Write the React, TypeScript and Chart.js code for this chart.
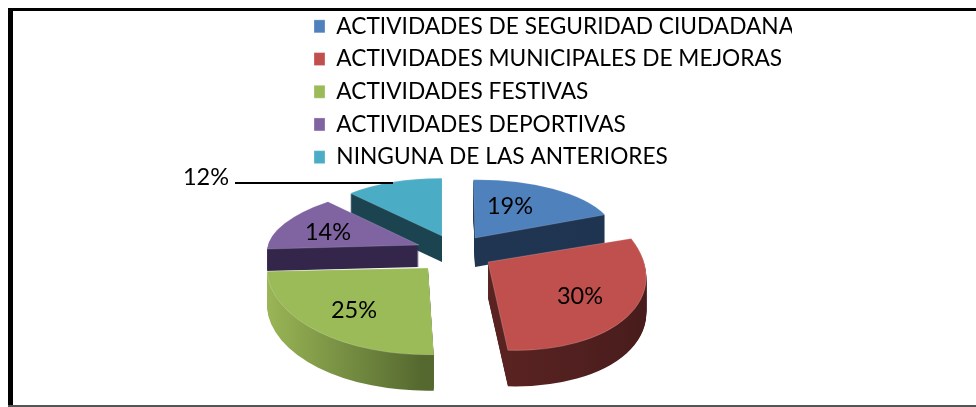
import React, { useEffect, useRef } from "react";
import { Chart, registerables } from "chart.js";

Chart.register(...registerables);

const categories = [
  "ACTIVIDADES DE SEGURIDAD CIUDADANA",
  "ACTIVIDADES MUNICIPALES DE MEJORAS",
  "ACTIVIDADES FESTIVAS",
  "ACTIVIDADES DEPORTIVAS",
  "NINGUNA DE LAS ANTERIORES",
];
const values = [19, 30, 25, 14, 12];
const topColors = ["#4F81BD", "#C0504D", "#9BBB59", "#8064A2", "#4BACC6"];

// 3D look: explode offset from the pie centre, per-slice projection, wall depth and wall shades
const pieCentre = { x: 455, y: 262 };
const explode = [[20, -24], [33, 0], [-27, 6], [-36, -17], [-13, -26]];
const projection = [
  [140.5, -1.9, 1.7, 58.3],
  [158, 9.6, 10, 87.9],
  [161, 2.1, -4.4, 86.7],
  [151.2, -0.3, -17.1, 59.6],
  [134, 0.9, 0, 57.7],
];
const depth = [29, 36, 36, 22, 26];
const wallShades = [
  ["#1F3552", "#1F3450"],
  ["#5A2322", "#481C1C"],
  ["#9AB656", "#54682F"],
  ["#33264A", "#322440"],
  ["#1C4450", "#1F4A55"],
];
const drawOrder = [4, 3, 0, 2, 1];
const labelOffset = [[35, -32], [92, 34], [-74, 42], [-91, -13], [-236, -59]];
const leader = { from: [235, 183], to: [393, 183] };
const FONT = "Lato, Carlito, sans-serif";

const pie3d = {
  id: "pie3d",
  afterLayout(chart: any) {
    const lg = chart.legend;
    const w = lg.right - lg.left;
    const h = lg.bottom - lg.top;
    lg.left = 304;
    lg.right = 304 + w;
    lg.top = 5;
    lg.bottom = 5 + h;
  },
  beforeDatasetsDraw(chart: any) {
    const { ctx } = chart;
    const arcs = chart.getDatasetMeta(0).data;
    drawOrder.forEach((i) => {
      const arc = arcs[i];
      const R = arc.outerRadius;
      const m = projection[i];
      const ax = pieCentre.x + explode[i][0];
      const ay = pieCentre.y + explode[i][1];
      const base = arc.options;
      const place = (dy: number) => {
        ctx.save();
        ctx.translate(ax, ay + dy);
        ctx.transform(m[0] / R, m[1] / R, m[2] / R, m[3] / R, 0, 0);
        ctx.translate(-arc.x, -arc.y);
      };
      const grad = ctx.createLinearGradient(arc.x - R, 0, arc.x + R, 0);
      const isLeft = i === 2;
      grad.addColorStop(isLeft ? 0 : 0.5, wallShades[i][0]);
      grad.addColorStop(isLeft ? 0.5 : 1, wallShades[i][1]);
      arc.options = { ...base, backgroundColor: grad, borderWidth: 0 };
      for (let d = depth[i]; d >= 1; d--) {
        place(d);
        arc.draw(ctx);
        ctx.restore();
      }
      arc.options = base;
      place(0);
      arc.draw(ctx);
      ctx.restore();
    });
    ctx.save();
    ctx.strokeStyle = "#000";
    ctx.lineWidth = 2;
    ctx.beginPath();
    ctx.moveTo(leader.from[0], leader.from[1]);
    ctx.lineTo(leader.to[0], leader.to[1]);
    ctx.stroke();
    ctx.fillStyle = "#000";
    ctx.font = `23.5px ${FONT}`;
    ctx.textAlign = "center";
    ctx.textBaseline = "middle";
    values.forEach((v, i) => {
      const ax = pieCentre.x + explode[i][0];
      const ay = pieCentre.y + explode[i][1];
      ctx.fillText(`${v}%`, ax + labelOffset[i][0], ay + labelOffset[i][1]);
    });
    ctx.restore();
    return false;
  },
};

export default function App() {
  const ref = useRef<HTMLCanvasElement | null>(null);
  useEffect(() => {
    const chart = new Chart(ref.current as HTMLCanvasElement, {
      type: "pie",
      data: {
        labels: categories,
        datasets: [{ data: values, backgroundColor: topColors, borderWidth: 1, borderColor: "rgba(255,255,255,0.3)" }],
      },
      options: {
        animation: false,
        responsive: false,
        plugins: {
          tooltip: { enabled: false },
          legend: {
            position: "left",
            align: "start",
            labels: {
              boxWidth: 11,
              boxHeight: 13,
              padding: 10,
              color: "#000",
              font: { family: FONT, size: 22.7 },
            },
          },
        },
      },
      plugins: [pie3d],
    } as any);
    return () => chart.destroy();
  }, []);
  const box: React.CSSProperties = { position: "absolute" };
  return (
    <div style={{ ...box, left: 0, top: 0, width: 976, height: 407, overflow: "hidden", background: "#fff" }}>
      <canvas ref={ref} width={976} height={407} style={{ ...box, left: 0, top: 0, width: 976, height: 407, filter: "blur(0.4px)" }} />
      <div style={{ ...box, left: 8, top: 8, width: 968, height: 3, background: "#000" }} />
      <div style={{ ...box, left: 8, top: 8, width: 5, height: 399, background: "#000" }} />
      <div style={{ ...box, left: 8, top: 405, width: 968, height: 2, background: "#555" }} />
    </div>
  );
}
